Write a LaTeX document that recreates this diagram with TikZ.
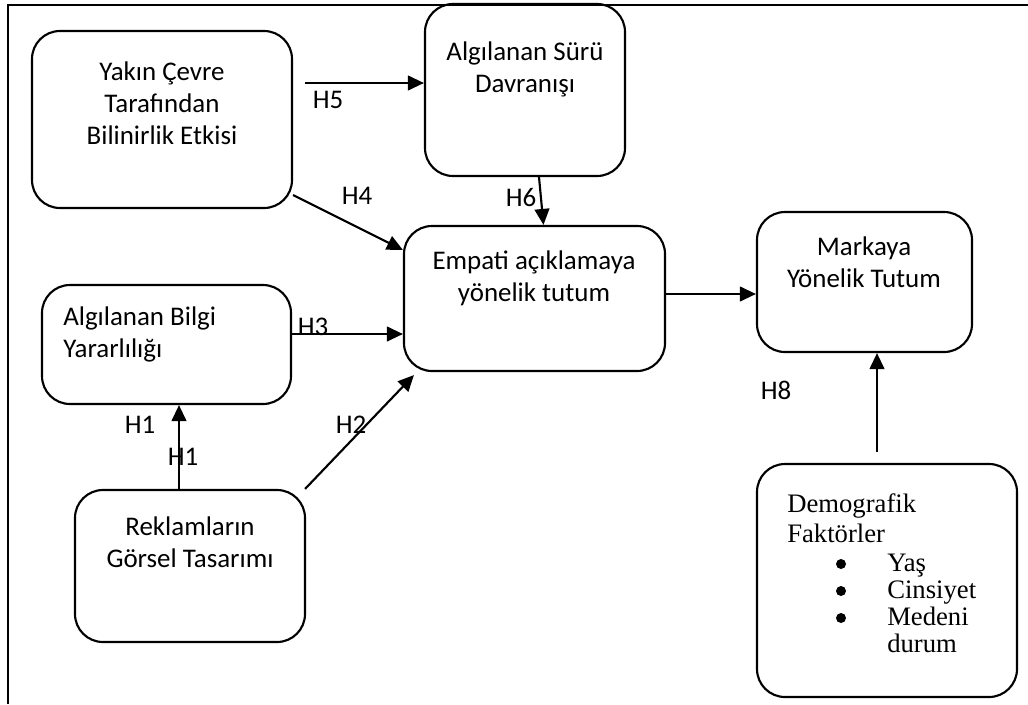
\documentclass[tikz,border=0pt]{standalone}
\usepackage{fontspec}
\setmainfont{Carlito}
\newfontfamily\tnr{Liberation Serif}
\usetikzlibrary{arrows.meta,fit,calc}
\begin{document}
\begin{tikzpicture}[x=0.75pt,y=-0.75pt,
  box/.style={draw,line width=1.6pt,rounded corners=21pt,inner sep=0pt},
  arr/.style={line width=1.6pt,-{Triangle[length=12pt,width=11pt]}},
  txt/.style={font=\fontsize{20.2}{24}\selectfont,align=center,inner sep=0pt},
  lbl/.style={font=\fontsize{20.2}{24}\selectfont,inner sep=0pt},
  tt/.style={font=\tnr\fontsize{20}{22}\selectfont,inner sep=0pt,anchor=base west},
  dot/.style={circle,fill,inner sep=0pt,minimum size=7.5pt}]
\useasboundingbox (0,0) rectangle (1028,704);
% frame
\draw[line width=1.6pt] (8,704) -- (8,5) -- (1028,5);
% boxes
\node[box,fit={(32,31) (292,208)}] (yakin) {};
\node[box,fit={(425,4) (625,176)}] (suru) {};
\node[box,fit={(404,226) (665,371)}] (empati) {};
\node[box,fit={(757,212) (972,352)}] (marka) {};
\node[box,fit={(42,285) (291,404)}] (bilgi) {};
\node[box,fit={(75,490) (305,642)}] (reklam) {};
\node[box,fit={(757,464) (1017,697)}] (demo) {};
% texts
\node[txt] (t1) at (162,103) {Yakın Çevre\\Tarafından\\Bilinirlik Etkisi};
\node[txt] (t2) at (525,69) {Algılanan Sürü\\Davranışı};
\node[txt] (t3) at (534,278) {Empati açıklamaya\\yönelik tutum};
\node[txt] (t4) at (864,262) {Markaya\\Yönelik Tutum};
\node[txt,align=left,anchor=west] (t5) at (63,334) {Algılanan Bilgi\\Yararlılığı};
\node[txt] (t6) at (190,542) {Reklamların\\Görsel Tasarımı};
\node[tt] (d1) at (787,512) {Demografik};
\node[tt] (d2) at (787,542) {Faktörler};
\node[dot] (b1) at (841,564) {};
\node[tt] (d3) at (887,571) {Yaş};
\node[dot] (b2) at (841,591) {};
\node[tt] (d4) at (887,598) {Cinsiyet};
\node[dot] (b3) at (841,618) {};
\node[tt] (d5) at (887,625) {Medeni};
\node[tt] (d6) at (887,652) {durum};
% helper coordinates
\coordinate (h5s) at (305,83);
\coordinate (h4y) at (0,195);
\coordinate (h4e) at (0,250);
\coordinate (h3y) at (0,334);
\coordinate (h1x) at (179,0);
\coordinate (my) at (0,294);
\coordinate (h8s) at (877,452);
% connectors
\draw[arr] (h5s) -- (h5s -| suru.west);
\draw[arr] ($(suru.south)+(14,0)$) -- ($(empati.north)+(9,0)$);
\draw[arr] (yakin.east |- h4y) -- (empati.west |- h4e);
\draw[arr] (bilgi.east |- h3y) -- (empati.west |- h3y);
\draw[arr] ($(reklam.north east)+(-1,0)$) -- ($(empati.south west)+(11,3)$);
\draw[arr] (h1x |- reklam.north) -- (h1x |- bilgi.south);
\draw[arr] (empati.east |- my) -- (marka.west |- my);
\draw[arr] (h8s) -- (h8s |- marka.south);
% labels
\node[lbl] (l5) at (328,100) {H5};
\node[lbl] (l4) at (357,196) {H4};
\node[lbl] (l6) at (521,197) {H6};
\node[lbl] (l3) at (313,327) {H3};
\node[lbl] (l2) at (351,425) {H2};
\node[lbl] (l1a) at (140,425) {H1};
\node[lbl] (l1b) at (183,457) {H1};
\node[lbl] (l8) at (776,390) {H8};
\end{tikzpicture}
\end{document}
